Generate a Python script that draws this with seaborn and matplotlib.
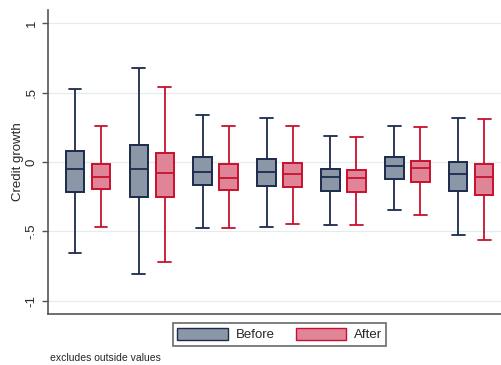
import numpy as np
import pandas as pd
import matplotlib
matplotlib.use("Agg")
import matplotlib.pyplot as plt
import seaborn as sns
from matplotlib.patches import Patch, PathPatch

groups = ["1", "2", "3", "4", "5", "6", "7"]
periods = ["Before", "After"]

# five-number summaries (lower whisker, Q1, median, Q3, upper whisker)
before_low = [-0.657, -0.808, -0.477, -0.465, -0.453, -0.348, -0.523]
before_q1 = [-0.216, -0.252, -0.168, -0.173, -0.211, -0.120, -0.209]
before_med = [-0.048, -0.050, -0.070, -0.072, -0.110, -0.029, -0.084]
before_q3 = [0.081, 0.120, 0.036, 0.019, -0.053, 0.034, 0.000]
before_high = [0.523, 0.676, 0.340, 0.314, 0.189, 0.261, 0.314]

after_low = [-0.465, -0.722, -0.477, -0.444, -0.456, -0.381, -0.559]
after_q1 = [-0.197, -0.249, -0.199, -0.182, -0.216, -0.146, -0.235]
after_med = [-0.106, -0.077, -0.113, -0.084, -0.117, -0.045, -0.110]
after_q3 = [-0.012, 0.067, -0.014, -0.007, -0.060, 0.010, -0.017]
after_high = [0.259, 0.540, 0.261, 0.259, 0.182, 0.250, 0.309]

ytick_vals = [-1, -0.5, 0, 0.5, 1]
ytick_labels = ["-1", "-.5", "0", ".5", "1"]

rows = []
for per, arrs in (("Before", (before_low, before_q1, before_med, before_q3, before_high)),
                  ("After", (after_low, after_q1, after_med, after_q3, after_high))):
    for i, g in enumerate(groups):
        for a in arrs:
            rows.append({"group": g, "period": per, "value": a[i]})
df = pd.DataFrame(rows)

fill_colors = {"Before": "#8b96a6", "After": "#df8597"}
edge_colors = {"Before": "#1b2b4b", "After": "#c8102e"}

sns.set_style("white")
plt.rcParams["font.family"] = ["Liberation Sans", "DejaVu Sans"]

fig = plt.figure(figsize=(5.01, 3.65), dpi=100)
ax = fig.add_axes([0.0958, 0.1397, 0.9042, 0.8329])

sns.boxplot(data=df, x="group", y="value", hue="period", hue_order=periods,
            order=groups, palette=fill_colors, dodge=True,
            whis=(0, 100), width=0.814, gap=0.287, linewidth=1.3,
            showfliers=False, legend=False, ax=ax)

def side(xc):
    return "Before" if xc - np.round(xc) < 0 else "After"

for p in ax.patches:
    if isinstance(p, PathPatch):
        verts = p.get_path().vertices
        xc = (verts[:, 0].min() + verts[:, 0].max()) / 2
        per = side(xc)
        p.set_facecolor(fill_colors[per])
        p.set_edgecolor(edge_colors[per])
        p.set_linewidth(1.4)
for ln in ax.lines:
    xd = np.asarray(ln.get_xdata(), dtype=float)
    if xd.size == 0:
        continue
    xc = xd.mean()
    per = side(xc)
    ln.set_color(edge_colors[per])
    ln.set_linewidth(1.3)
    if xd.size == 2 and abs(xd[1] - xd[0]) > 1e-9:
        yd = np.asarray(ln.get_ydata(), dtype=float)
        if abs(yd[1] - yd[0]) < 1e-12:
            half = abs(xd[1] - xd[0]) / 2
            if half < 0.1:
                # caps: widen to about 70% of the box width
                ln.set_xdata([xc - 0.1, xc + 0.1])

ax.set_ylim(-1.094, 1.094)
ax.set_xlim(-0.626, 6.467)
ax.set_yticks(ytick_vals)
ax.set_yticklabels(ytick_labels, rotation=90, va="center", fontsize=9.5)
ax.set_xticks([])
ax.set_xlabel("")
ax.set_ylabel("Credit growth", fontsize=9.5, labelpad=1)
ax.yaxis.grid(True, color="#e4eded", linewidth=0.9)
ax.set_axisbelow(True)
for s in ["top", "right"]:
    ax.spines[s].set_visible(False)
for s in ["left", "bottom"]:
    ax.spines[s].set_color("#555555")
    ax.spines[s].set_linewidth(1.2)
ax.tick_params(axis="y", direction="out", length=4.5, width=1.0, color="#555555", left=True, pad=3)

handles = [Patch(facecolor=fill_colors[p], edgecolor=edge_colors[p], linewidth=1.0, label=p) for p in periods]
leg = fig.legend(handles=handles, loc="center", bbox_to_anchor=(0.558, 0.0836), ncol=2,
                 fontsize=9.5, frameon=True, fancybox=False, handlelength=3.8, handleheight=1.05,
                 handletextpad=0.6, columnspacing=1.6, borderpad=0.35, borderaxespad=0)
leg.get_frame().set_edgecolor("#444444")
leg.get_frame().set_linewidth(1.2)

fig.text(0.0998, 0.0205, "excludes outside values", fontsize=7.5, va="center", ha="left")

fig.savefig("out.png", dpi=100)
